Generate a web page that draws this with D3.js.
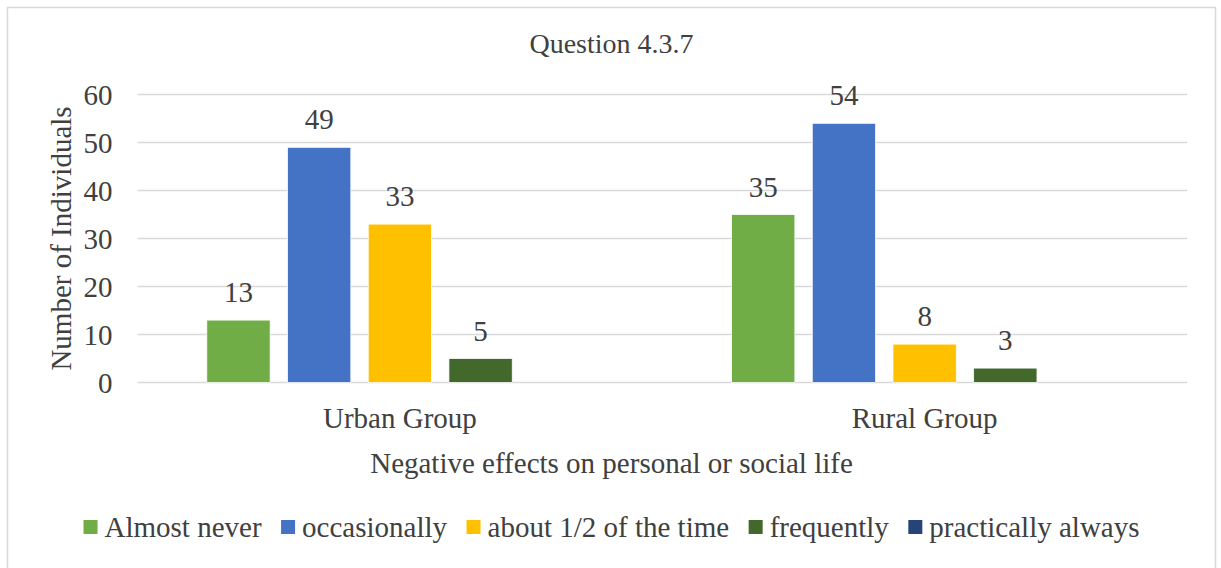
<!DOCTYPE html>
<html>
<head>
<meta charset="utf-8">
<script src="https://cdn.jsdelivr.net/npm/d3@7"></script>
<style>
  html, body { margin: 0; padding: 0; background: #fff; }
  svg { display: block; }
  text { font-family: "Liberation Serif", "Times New Roman", Times, "DejaVu Serif", serif; fill: #404040; }
</style>
</head>
<body>
<svg id="chart" width="1221" height="568"></svg>
<script>
// Survey responses, question 4.3.7
const title = "Question 4.3.7";
const groups = ["Urban Group", "Rural Group"];
const seriesNames = ["Almost never", "occasionally", "about 1/2 of the time", "frequently", "practically always"];
const seriesColors = ["#70AD47", "#4472C4", "#FFC000", "#43682B", "#264478"];
// values per series, in the order of `groups`; null = no responses recorded
const almostNever = [13, 35];
const occasionally = [49, 54];
const aboutHalf = [33, 8];
const frequently = [5, 3];
const practicallyAlways = [null, null];
const yTicks = [0, 10, 20, 30, 40, 50, 60];
const yTitle = "Number of Individuals";
const xTitle = "Negative effects on personal or social life";

const seriesValues = [almostNever, occasionally, aboutHalf, frequently, practicallyAlways];

const plot = { left: 137.5, right: 1187, top: 94.5, bottom: 382.5 };
const centerX = 611.5;
const fontSize = 29;
const fontFamily = "Liberation Serif, Times New Roman, serif";

const svg = d3.select("#chart");

// outer chart frame
svg.append("rect")
  .attr("x", 7.5).attr("y", 7.5)
  .attr("width", 1208).attr("height", 580)
  .attr("fill", "#fff")
  .attr("stroke", "#d9d9d9").attr("stroke-width", 1.5);

const y = d3.scaleLinear().domain([0, 60]).range([plot.bottom, plot.top]);
const x0 = d3.scaleBand().domain(groups).range([plot.left, plot.right]).padding(0);
const x1 = d3.scaleBand().domain(seriesNames)
  .range([0, x0.bandwidth()])
  .paddingInner(0.2157).paddingOuter(0.859);

// horizontal gridlines
svg.append("g")
  .selectAll("line")
  .data(yTicks)
  .join("line")
  .attr("x1", plot.left).attr("x2", plot.right)
  .attr("y1", d => y(d)).attr("y2", d => y(d))
  .attr("stroke", "#d9d9d9").attr("stroke-width", 1.5);

// y axis labels
const yAxis = svg.append("g")
  .attr("transform", `translate(${plot.left - 25},0)`)
  .call(d3.axisLeft(y).tickValues(yTicks).tickSize(0).tickPadding(0))
  .attr("font-family", fontFamily);
yAxis.select(".domain").remove();
yAxis.selectAll("text")
  .attr("font-size", fontSize)
  .attr("fill", "#404040")
  .attr("dy", "0.34em");

// x axis category labels
const xAxis = svg.append("g")
  .attr("transform", `translate(0,${plot.bottom})`)
  .call(d3.axisBottom(x0).tickSize(0).tickPadding(0))
  .attr("font-family", fontFamily);
xAxis.select(".domain").remove();
xAxis.selectAll("text")
  .attr("font-size", fontSize)
  .attr("fill", "#404040")
  .attr("dy", null)
  .attr("y", 45);

// bars
const flat = [];
groups.forEach((g, gi) => {
  seriesNames.forEach((s, si) => {
    flat.push({ group: g, series: s, color: seriesColors[si], value: seriesValues[si][gi] });
  });
});
const drawn = flat.filter(d => d.value != null);

svg.append("g")
  .selectAll("rect")
  .data(drawn)
  .join("rect")
  .attr("x", d => x0(d.group) + x1(d.series))
  .attr("width", x1.bandwidth())
  .attr("y", d => y(d.value))
  .attr("height", d => y(0) - y(d.value))
  .attr("fill", d => d.color)
  .attr("stroke", "#fff").attr("stroke-width", 0.75);

// value labels
svg.append("g")
  .selectAll("text")
  .data(drawn)
  .join("text")
  .attr("x", d => x0(d.group) + x1(d.series) + x1.bandwidth() / 2)
  .attr("y", d => y(d.value) - 18)
  .attr("text-anchor", "middle")
  .attr("font-size", fontSize)
  .text(d => d.value);

// title
svg.append("text")
  .attr("x", centerX).attr("y", 53)
  .attr("text-anchor", "middle")
  .attr("font-size", 28)
  .text(title);

// axis titles
svg.append("text")
  .attr("transform", `translate(71,${(plot.top + plot.bottom) / 2}) rotate(-90)`)
  .attr("text-anchor", "middle")
  .attr("font-size", fontSize)
  .text(yTitle);

svg.append("text")
  .attr("x", centerX).attr("y", 473)
  .attr("text-anchor", "middle")
  .attr("font-size", fontSize)
  .text(xTitle);

// legend, laid out from measured text widths and centred in the frame
const sw = 14, swGap = 7, itemGap = 19.5, legendBaseline = 537;
const legend = svg.append("g");
const items = legend.selectAll("g")
  .data(seriesNames.map((s, i) => ({ name: s, color: seriesColors[i] })))
  .join("g");
items.append("rect")
  .attr("width", sw).attr("height", sw)
  .attr("y", legendBaseline - 17)
  .attr("fill", d => d.color);
items.append("text")
  .attr("x", sw + swGap)
  .attr("y", legendBaseline)
  .attr("font-size", fontSize)
  .text(d => d.name);

let cursor = 0;
const offsets = [];
items.each(function () {
  const tw = d3.select(this).select("text").node().getComputedTextLength();
  offsets.push(cursor);
  cursor += sw + swGap + tw + itemGap;
});
const total = cursor - itemGap;
const start = centerX - total / 2;
items.attr("transform", (d, i) => `translate(${start + offsets[i]},0)`);
</script>
</body>
</html>
